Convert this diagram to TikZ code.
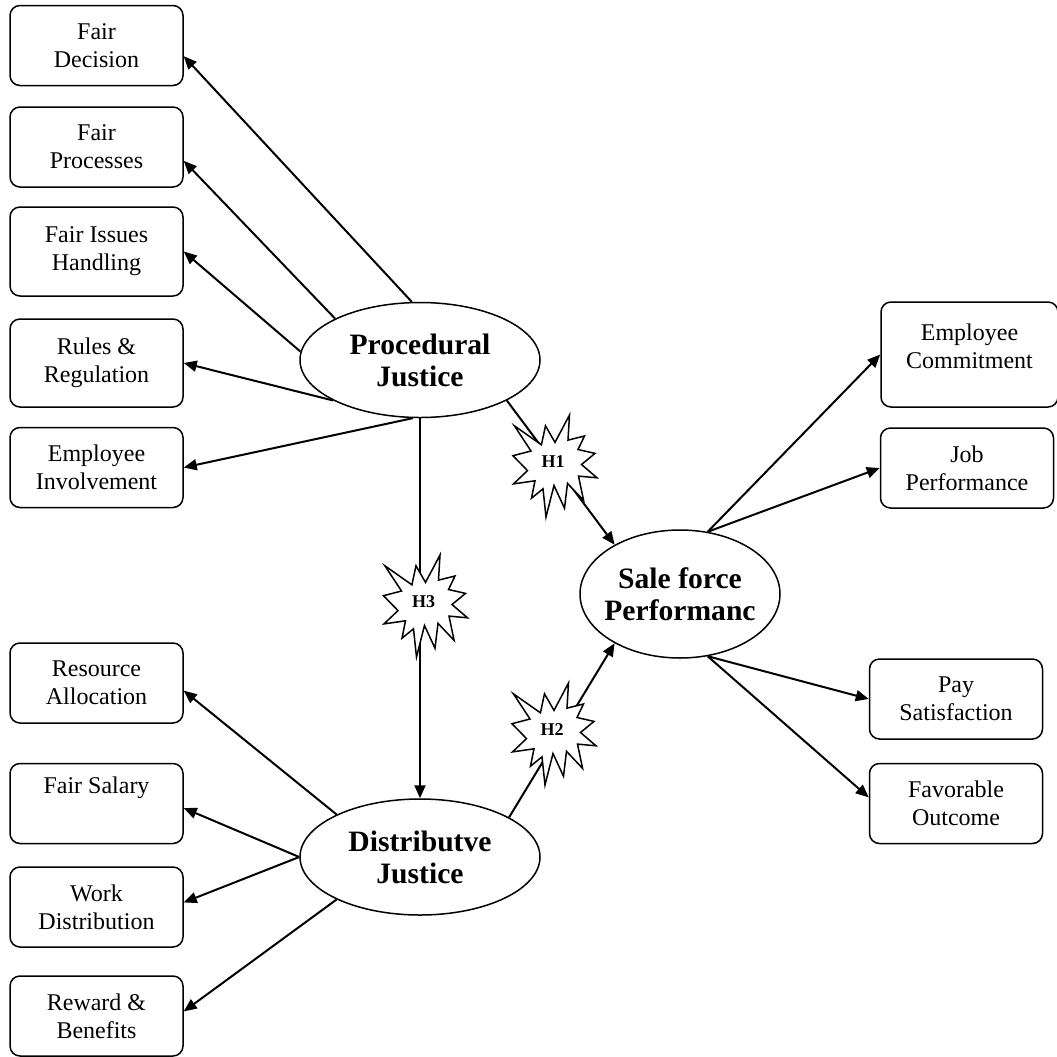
\documentclass[tikz,border=0pt]{standalone}
\usepackage{fontspec}
\setmainfont{Liberation Serif}
\usetikzlibrary{arrows.meta, shapes.geometric}

\tikzset{
	item/.style={draw, rounded corners=5pt, line width=0.75pt, minimum width=86.5pt, minimum height=40pt,
		inner sep=1pt, align=center, font=\fontsize{12}{14}\selectfont},
	construct/.style={draw, ellipse, line width=0.75pt, inner sep=0pt, align=center,
		font=\fontsize{14.8}{16}\selectfont\bfseries},
	link/.style={line width=1pt, -{Triangle[length=6.5pt, width=5.5pt]}},
	burstline/.style={draw, fill=white, line width=0.75pt, line join=miter},
	hlabel/.style={inner sep=0pt, font=\fontsize{9}{10}\selectfont\bfseries},
	pics/burst/.style={code={
		\draw[burstline] (0, -23.6) -- (14.5, -51) -- (13, -25.9) -- (29.5, -30) -- (23, -16.5) -- (40, -12.6)
			-- (26.5, -1.5) -- (42, 11.8) -- (23.5, 10.1) -- (28.6, 34.4) -- (12.5, 17.3) -- (9.5, 42.2)
			-- (-1, 19.5) -- (-9, 51) -- (-12, 22.8) -- (-23.5, 32.2) -- (-20, 14.8) -- (-41.5, 17.9)
			-- (-27.5, 4.6) -- (-42, -10.3) -- (-24, -15) -- (-40.6, -40.2) -- (-13.6, -21.2) -- (-9.5, -40.2) -- cycle;
		\node[hlabel](-text) at (-2, -4){#1};
	}}
}

\begin{document}
\begin{tikzpicture}[x=0.5pt, y=-0.5pt]
	% Constructs and their indicators:
	\useasboundingbox (0, 0) rectangle (1057, 1057);
	\node[construct, minimum width=120pt, minimum height=57.5pt](pj) at (420, 360){Procedural\\Justice};
	\node[construct, minimum width=100pt, minimum height=64pt, inner xsep=-4pt](sf) at (680, 594){Sale force\\Performanc};
	\node[construct, minimum width=120pt, minimum height=58pt](dj) at (420, 857){Distributve\\Justice};
	\node[item](fd) at (96.5, 45.5){Fair\\Decision};
	\node[item](fp) at (96.5, 147){Fair\\Processes};
	\node[item, minimum height=44.5pt](fi) at (96.5, 251.5){Fair Issues\\Handling};
	\node[item, minimum height=44pt](rr) at (96.5, 363){Rules \&\\Regulation};
	\node[item](ei) at (96.5, 467.5){Employee\\Involvement};
	\node[item](ra) at (96.5, 683){Resource\\Allocation};
	\node[item](fs) at (96.5, 803.5){Fair Salary\\\strut};
	\node[item](wd) at (96.5, 907){Work\\Distribution};
	\node[item](rb) at (96.5, 1016){Reward \&\\Benefits};
	\node[item, minimum width=88.5pt, minimum height=52.5pt](ec) at (969.5, 354.5){Employee\\Commitment\\[-6pt]\mbox{}};
	\node[item](jp) at (967, 468){Job\\Performance};
	\node[item](ps) at (956, 699){Pay\\Satisfaction};
	\node[item](fo) at (956, 803.5){Favorable\\Outcome};
	% Arrows:
	\draw[link] (pj.98) -- (fd.-7);
	\draw[link] (pj.154) -- (fp.-9);
	\draw[link] (pj.176) -- (fi.east);
	\draw[link] (pj.205) -- (rr.east);
	\draw[link] (pj.263) -- (ei.east);
	\draw[link] (pj.south) -- (dj.north);
	\draw[link] (pj.335) -- (sf.143);
	\draw[link] (dj.24) -- (sf.217);
	\draw[link] (dj.153) -- (ra.-5);
	\draw[link] (dj.west) -- (fs.-3);
	\draw[link] (dj.west) -- (wd.3);
	\draw[link] (dj.207) -- (rb.3);
	\draw[link] (sf.66) -- (ec.west);
	\draw[link] (sf.66) -- (jp.west);
	\draw[link] (sf.294) -- (ps.west);
	\draw[link] (sf.294) -- (fo.176);
	% Hypotheses:
	\pic (h1) at (555, 466){burst=H1};
	\pic (h3) at (425.5, 606){burst=H3};
	\pic (h2) at (554, 734){burst=H2};
\end{tikzpicture}
\end{document}
